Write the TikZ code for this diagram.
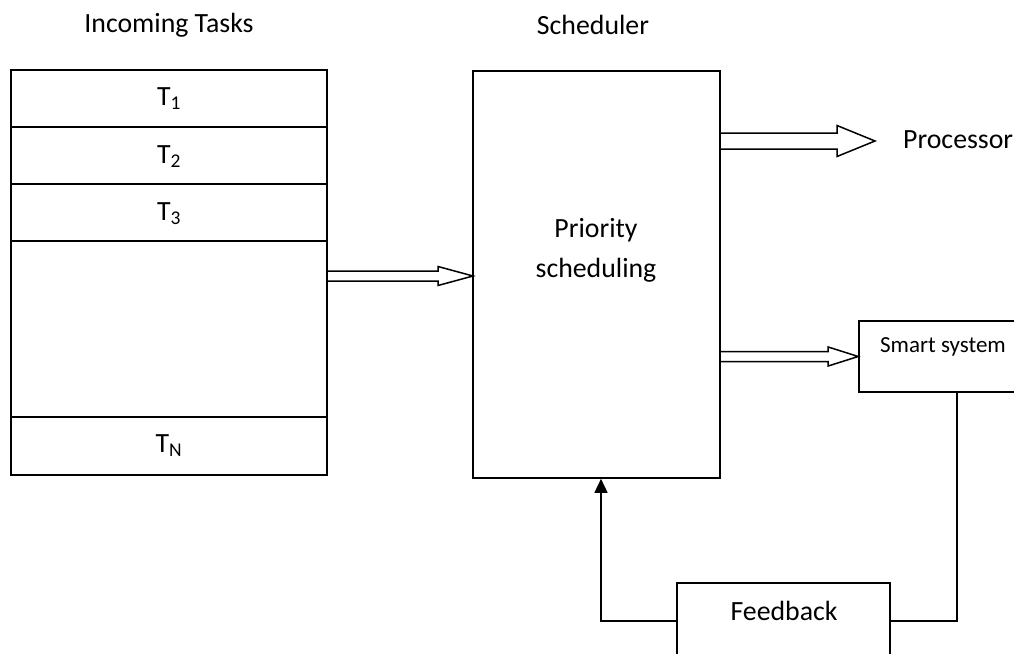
\documentclass[tikz,border=0pt]{standalone}
\usepackage{fontspec}
\setmainfont{Carlito}
\usetikzlibrary{arrows.meta,calc}
\newcommand\hollowarrow[5]{%
  \draw[conn] let \p1=(#1), \p2=(#2) in
    (\x1,\y1+#3) -- (\x2-#5,\y1+#3) -- (\x2-#5,\y1+#4) -- (\x2,\y1)
    -- (\x2-#5,\y1-#4) -- (\x2-#5,\y1-#3) -- (\x1,\y1-#3);}
\begin{document}
\begin{tikzpicture}[x=1pt,y=-1pt,
  box/.style={draw,line width=1.6pt,inner sep=0pt},
  conn/.style={line width=1.5pt,line join=miter},
  txt/.style={inner sep=0pt,font=\fontsize{27.8}{40}\selectfont},
  small/.style={inner sep=0pt,font=\fontsize{23}{28}\selectfont}]
\useasboundingbox (0,0) rectangle (1014,653);
\clip (0,0) rectangle (1014,653);
% headers
\node[txt] (hin) at (169,25) {Incoming Tasks};
\node[txt] (hsc) at (593,25) {Scheduler};
% task queue
\node[box,minimum width=316pt,minimum height=405pt] (tasks) at (169,272.5) {};
\foreach \yy in {127,184,241,417}{\draw[line width=1.6pt] (tasks.west |- 0,\yy) -- (tasks.east |- 0,\yy);}
\node[txt] (t1) at (169,99) {T\textsubscript{1}};
\node[txt] (t2) at (169,157) {T\textsubscript{2}};
\node[txt] (t3) at (169,214) {T\textsubscript{3}};
\node[txt] (tn) at (169,446) {T\textsubscript{N}};
% scheduler
\node[box,minimum width=247pt,minimum height=407pt] (sched) at (596.5,274.5) {};
\node[txt,align=center] (prio) at (596,250) {Priority\\scheduling};
% processor
\node[txt,anchor=west] (proc) at (903,140) {Processor};
\coordinate (ptip) at (875,141);
% smart system
\node[box,minimum width=171pt,minimum height=71pt] (smart) at (944.5,356.5) {};
\node[small] (smartt) at (943,347) {Smart system};
% feedback
\node[box,minimum width=213pt,minimum height=76pt] (fb) at (783.5,621) {};
\node[txt] (fbt) at (784,611) {Feedback};
% hollow arrows
\coordinate (atip) at (473,276);
\hollowarrow{tasks.east |- atip}{atip}{5pt}{9.5pt}{35pt}
\hollowarrow{sched.east |- ptip}{ptip}{8pt}{15.5pt}{38pt}
\hollowarrow{sched.east |- smart.west}{smart.west}{5pt}{9.5pt}{30pt}
% feedback loop
\coordinate (c1) at (957,621);
\coordinate (c2) at (601,621);
\draw[conn] (smart.south -| c1) -- (c1) -- (fb.east);
\draw[conn,-{Triangle[width=13pt,length=14pt]}] (fb.west) -- (c2) -- (sched.south -| c2);
\end{tikzpicture}
\end{document}
